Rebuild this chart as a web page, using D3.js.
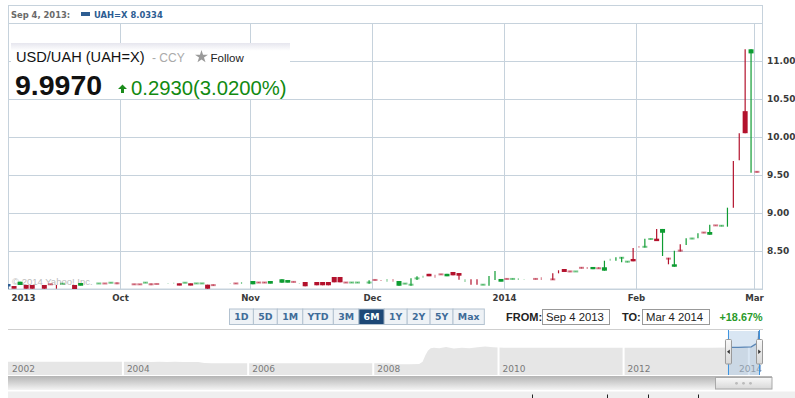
<!DOCTYPE html>
<html>
<head>
<meta charset="utf-8">
<script src="https://cdn.jsdelivr.net/npm/d3@7/dist/d3.min.js"></script>
<style>
  body { margin: 0; background: #fff; }
  svg { display: block; }
</style>
</head>
<body>
<svg id="chart" width="795" height="398"></svg>
<script>
// ---- daily candles, USD/UAH, Sep 4 2013 .. Mar 3 2014 ----
const dates = [
  // Sep
  "2013-09-04","2013-09-05","2013-09-06","2013-09-09","2013-09-10","2013-09-12","2013-09-13","2013-09-16",
  "2013-09-17","2013-09-19","2013-09-20","2013-09-25","2013-09-26","2013-09-27","2013-09-30",
  // Oct
  "2013-10-03","2013-10-04","2013-10-07","2013-10-08","2013-10-09","2013-10-11","2013-10-14","2013-10-15",
  "2013-10-16","2013-10-17","2013-10-18","2013-10-21","2013-10-22","2013-10-23","2013-10-28","2013-10-29","2013-10-30",
  // Nov
  "2013-11-01","2013-11-04","2013-11-05","2013-11-06","2013-11-08","2013-11-11","2013-11-12","2013-11-13",
  "2013-11-14","2013-11-18","2013-11-19","2013-11-20","2013-11-21","2013-11-22","2013-11-25","2013-11-26",
  "2013-11-27","2013-11-29",
  // Dec
  "2013-12-02","2013-12-03","2013-12-04","2013-12-05","2013-12-06","2013-12-09","2013-12-10","2013-12-11",
  "2013-12-12","2013-12-13","2013-12-16","2013-12-17","2013-12-18","2013-12-19","2013-12-20","2013-12-23",
  "2013-12-24","2013-12-25","2013-12-26","2013-12-27","2013-12-30","2013-12-31",
  // Jan
  "2014-01-01","2014-01-02","2014-01-03","2014-01-06","2014-01-08","2014-01-09","2014-01-13","2014-01-14",
  "2014-01-15","2014-01-16","2014-01-17","2014-01-20","2014-01-21","2014-01-22","2014-01-23","2014-01-24",
  "2014-01-27","2014-01-28","2014-01-29","2014-01-30","2014-01-31",
  // Feb / Mar
  "2014-02-03","2014-02-04","2014-02-05","2014-02-06","2014-02-07","2014-02-10","2014-02-11","2014-02-12",
  "2014-02-13","2014-02-14","2014-02-17","2014-02-18","2014-02-19","2014-02-20","2014-02-21","2014-02-24",
  "2014-02-25","2014-02-26","2014-02-27","2014-02-28","2014-03-03"
];
const opens = [
  8.066,8.039,8.053,8.053,8.053,8.053,8.068,8.030,8.063,8.053,8.043,8.068,8.077,8.077,8.088,
  8.068,8.066,8.077,8.075,8.070,8.076,8.077,8.075,8.075,8.075,8.068,8.068,8.057,8.062,8.075,8.080,8.072,
  8.062,8.092,8.092,8.070,8.083,8.083,8.100,8.075,8.092,8.092,8.092,8.092,8.158,8.158,8.092,8.078,8.078,8.075,
  8.128,8.112,8.110,8.111,8.043,8.062,8.043,8.130,8.160,8.200,8.170,8.200,8.167,8.224,8.210,8.110,8.090,8.090,8.048,8.100,8.180,8.096,
  8.140,8.125,8.128,8.128,8.140,8.136,8.135,8.226,8.263,8.240,8.227,8.290,8.277,8.260,8.283,8.241,8.385,8.394,8.402,8.350,8.395,
  8.556,8.545,8.648,8.662,8.740,8.410,8.293,8.515,8.620,8.655,8.700,8.750,8.714,8.842,8.822,8.900,9.380,9.870,10.340,11.100,9.553
];
const highs = [
  8.066,8.039,8.096,8.053,8.053,8.053,8.068,8.053,8.075,8.053,8.079,8.077,8.077,8.088,8.088,
  8.068,8.066,8.090,8.075,8.070,8.080,8.081,8.075,8.090,8.075,8.079,8.079,8.057,8.062,8.079,8.080,8.092,
  8.105,8.092,8.092,8.105,8.128,8.118,8.100,8.079,8.092,8.092,8.092,8.092,8.158,8.158,8.092,8.092,8.092,8.114,
  8.128,8.118,8.132,8.132,8.105,8.080,8.141,8.168,8.175,8.200,8.188,8.200,8.200,8.224,8.210,8.128,8.128,8.128,8.065,8.171,8.237,8.132,
  8.140,8.140,8.140,8.131,8.140,8.154,8.206,8.246,8.263,8.240,8.235,8.290,8.290,8.290,8.290,8.372,8.399,8.417,8.421,8.370,8.539,
  8.566,8.660,8.668,8.790,8.790,8.410,8.504,8.590,8.667,8.673,8.733,8.750,8.846,8.842,8.842,9.070,9.684,10.048,11.154,11.154,9.553
];
const lows = [
  8.000,8.004,8.053,8.004,8.004,8.004,8.055,8.004,8.063,8.000,8.043,8.068,8.068,8.077,8.062,
  8.055,8.057,8.077,8.049,8.062,8.072,8.073,8.045,8.075,8.045,8.068,8.068,8.004,8.040,8.071,8.066,8.066,
  8.062,8.078,8.078,8.070,8.083,8.083,8.087,8.071,8.036,8.049,8.049,8.049,8.088,8.088,8.078,8.078,8.078,8.070,
  8.110,8.105,8.096,8.096,8.043,8.062,8.043,8.118,8.149,8.167,8.149,8.185,8.167,8.180,8.122,8.092,8.057,8.057,8.048,8.043,8.118,8.096,
  8.125,8.125,8.118,8.126,8.125,8.118,8.118,8.206,8.224,8.222,8.227,8.268,8.263,8.260,8.262,8.241,8.372,8.372,8.351,8.350,8.364,
  8.543,8.545,8.648,8.630,8.434,8.325,8.293,8.495,8.580,8.655,8.667,8.735,8.714,8.832,8.822,8.820,9.070,9.693,10.050,9.530,9.530
];
const closes = [
  8.0334,8.004,8.096,8.004,8.004,8.004,8.055,8.029,8.075,8.000,8.079,8.077,8.068,8.088,8.062,
  8.055,8.057,8.090,8.049,8.062,8.077,8.078,8.045,8.090,8.045,8.079,8.079,8.004,8.040,8.076,8.066,8.073,
  8.105,8.078,8.078,8.105,8.128,8.118,8.087,8.076,8.036,8.049,8.049,8.049,8.088,8.088,8.078,8.092,8.092,8.096,
  8.110,8.111,8.111,8.110,8.105,8.080,8.070,8.150,8.161,8.167,8.169,8.185,8.200,8.180,8.175,8.111,8.089,8.089,8.065,8.101,8.181,8.132,
  8.125,8.140,8.129,8.129,8.125,8.135,8.118,8.225,8.224,8.222,8.235,8.268,8.276,8.290,8.262,8.286,8.386,8.395,8.420,8.370,8.364,
  8.555,8.565,8.668,8.630,8.790,8.390,8.325,8.495,8.621,8.673,8.701,8.735,8.750,8.832,8.842,8.901,9.379,9.869,10.050,11.154,9.530
];

const yTicks = [8.5, 9, 9.5, 10, 10.5, 11];
const yGrid = [8, 8.5, 9, 9.5, 10, 10.5, 11, 11.5];
const monthStarts = ["2013-09-04","2013-10-01","2013-11-01","2013-12-01","2014-01-01","2014-02-01","2014-03-01"];
const monthLabels = ["2013","Oct","Nov","Dec","2014","Feb","Mar"];

// navigator series (long history)
const navDates = ["2002-01-01","2002-07-01","2003-01-01","2003-07-01","2004-01-01","2004-03-15","2004-05-01","2004-06-15",
  "2004-08-01","2004-09-15","2004-11-01","2004-12-15","2005-02-01","2005-03-15","2005-04-20","2005-06-01","2005-09-01",
  "2006-01-01","2006-06-01","2007-01-01","2007-06-01","2008-01-01","2008-04-01","2008-05-15","2008-08-01","2008-09-25",
  "2008-10-15","2008-11-01","2008-11-15","2008-12-01","2008-12-20","2009-01-20","2009-03-01","2009-04-15","2009-06-01",
  "2009-07-15","2009-09-01","2009-10-15","2009-12-01","2010-02-01","2010-06-01","2011-01-01","2011-06-01","2012-01-01",
  "2012-06-01","2013-01-01","2013-06-01","2013-09-04","2013-11-01","2014-01-15","2014-02-07","2014-02-21","2014-02-25",
  "2014-02-26","2014-02-27","2014-02-28","2014-03-03"];
const navValues = [5.33,5.33,5.33,5.33,5.33,5.31,5.32,5.29,5.31,5.28,5.30,5.27,5.29,5.25,5.08,5.05,5.05,
  5.05,5.05,5.05,5.05,5.05,5.02,4.85,4.85,4.90,5.30,6.60,7.40,7.90,7.95,7.90,8.10,7.85,7.95,
  7.90,8.05,8.20,8.05,7.95,7.95,7.96,7.95,7.97,7.96,7.98,7.97,8.03,8.06,8.15,8.60,8.83,9.60,
  9.90,10.30,11.15,9.55];
const navYears = ["2002","2004","2006","2008","2010","2012","2014"];

const rangeButtons = ["1D","5D","1M","YTD","3M","6M","1Y","2Y","5Y","Max"];
const selectedRange = "6M";
const fromDate = "Sep 4 2013", toDate = "Mar 4 2014", rangeChange = "+18.67%";
const lastPrice = "9.9970", dayChange = "0.2930", dayChangePct = "(3.0200%)";

const UP = "#0e9c32", DOWN = "#b3122d", HILITE = "#2d5d92", GRID = "#c6d2dc";
const AXIS_FONT = "'DejaVu Sans', Verdana, sans-serif";
const ARIAL = "'Liberation Sans', Arial, sans-serif";

const svg = d3.select("#chart");
const margin = {left: 8, top: 23, right: 32, bottom: 109};
const width = 795 - margin.left - margin.right;
const height = 398 - margin.top - margin.bottom;

const parse = d3.utcParse("%Y-%m-%d");
const key = d3.utcFormat("%Y-%m-%d");
// trading days (weekdays) form the x axis, like Yahoo's chart does
const days = d3.utcDay.range(parse("2013-09-04"), parse("2014-03-05")).filter(d => d.getUTCDay() % 6 !== 0);
const dayIndex = new Map(days.map((d, i) => [key(d), i]));
const monthPos = monthStarts.map((m, i) => {
  const k = days.findIndex(d => d >= parse(m));
  return i === 0 ? 0 : k - 0.5;
});

// Yahoo's month spacing isn't perfectly even, so the scale is piecewise
const x = d3.scaleLinear().domain(monthPos).range([0, 112, 242, 364, 496, 628, 746]);
const y = d3.scaleLinear().domain([8, 11.5]).range([height, 0]);

const candles = dates.map((d, i) => ({
  i: dayIndex.get(d), o: opens[i], h: highs[i], l: lows[i], c: closes[i], first: i === 0
}));

const defs = svg.append("defs");
defs.append("clipPath").attr("id", "plotClip")
  .append("rect").attr("width", width).attr("height", height);
const boxGrad = defs.append("linearGradient").attr("id", "boxGrad").attr("x1", 0).attr("x2", 0).attr("y1", 0).attr("y2", 1);
boxGrad.append("stop").attr("offset", "0%").attr("stop-color", "#e6e6ee");
boxGrad.append("stop").attr("offset", "14%").attr("stop-color", "#fff");
const trackGrad = defs.append("linearGradient").attr("id", "trackGrad").attr("x1", 0).attr("x2", 0).attr("y1", 0).attr("y2", 1);
trackGrad.append("stop").attr("offset", "0%").attr("stop-color", "#b4b4b4");
trackGrad.append("stop").attr("offset", "100%").attr("stop-color", "#f4f4f4");
const thumbGrad = defs.append("linearGradient").attr("id", "thumbGrad").attr("x1", 0).attr("x2", 0).attr("y1", 0).attr("y2", 1);
thumbGrad.append("stop").attr("offset", "0%").attr("stop-color", "#f8f8f8");
thumbGrad.append("stop").attr("offset", "100%").attr("stop-color", "#d8d8d8");

// outer frame incl. the hover-info row
svg.append("rect")
  .attr("x", margin.left + 0.5).attr("y", 5.5)
  .attr("width", width - 1).attr("height", margin.top + height - 5.5)
  .attr("fill", "none").attr("stroke", GRID);

const g = svg.append("g").attr("transform", `translate(${margin.left},${margin.top})`);

// horizontal grid
g.append("g")
  .call(d3.axisRight(y).tickValues(yGrid).tickSize(width).tickFormat(""))
  .call(s => s.select(".domain").remove())
  .call(s => s.selectAll("line").attr("stroke", GRID));

// vertical grid + month labels
const xAxis = g.append("g").attr("transform", `translate(0,${height})`)
  .call(d3.axisBottom(x).tickValues(monthPos).tickSize(-height).tickPadding(6)
    .tickFormat((d, i) => monthLabels[i]))
  .call(s => s.select(".domain").remove());
xAxis.selectAll("line").attr("stroke", GRID);
xAxis.selectAll("text")
  .attr("font-family", AXIS_FONT).attr("font-size", 8.6).attr("font-weight", "bold").attr("fill", "#3a3a3a")
  .attr("text-anchor", (d, i) => i === 0 ? "start" : "middle")
  .attr("dx", (d, i) => i === 0 ? 3 : 0);

// price labels on the right
g.append("g").attr("transform", `translate(${width},0)`)
  .call(d3.axisRight(y).tickValues(yTicks).tickSize(0).tickPadding(4).tickFormat(d3.format(".2f")))
  .call(s => s.select(".domain").remove())
  .call(s => s.selectAll("text").attr("font-family", AXIS_FONT).attr("font-size", 9)
    .attr("font-weight", "bold").attr("fill", "#3a3a3a"));

// watermark
g.append("text").attr("x", 4).attr("y", height - 4)
  .attr("font-family", ARIAL).attr("font-size", 9.5).attr("fill", "#bcbcbc")
  .text("\u00a9 2014 Yahoo! Inc.");

// hover info row
const info = svg.append("text").attr("x", 11).attr("y", 17.5)
  .attr("font-family", AXIS_FONT).attr("font-size", 8.4).attr("font-weight", "bold");
info.append("tspan").attr("fill", "#6a6a6a").text("Sep 4, 2013:");
svg.append("rect").attr("x", 81).attr("y", 12).attr("width", 9).attr("height", 4).attr("fill", HILITE);
svg.append("text").attr("x", 94).attr("y", 17.5)
  .attr("font-family", AXIS_FONT).attr("font-size", 8.4).attr("font-weight", "bold").attr("fill", HILITE)
  .text("UAH=X " + d3.format(".4f")(closes[0]));

// quote box
const qb = svg.append("g");
qb.append("rect").attr("x", 11).attr("y", 43).attr("width", 279).attr("height", 56).attr("fill", "url(#boxGrad)");
qb.append("text").attr("x", 16).attr("y", 61.5)
  .attr("font-family", ARIAL).attr("font-size", 14.6).attr("fill", "#111").text("USD/UAH (UAH=X)");
qb.append("text").attr("x", 152).attr("y", 61.5)
  .attr("font-family", ARIAL).attr("font-size", 12).attr("fill", "#aaa").text("- CCY");
qb.append("path").attr("d", d3.symbol(d3.symbolStar, 52)()).attr("transform", "translate(201.5,56.8)").attr("fill", "#9a9a9a");
qb.append("text").attr("x", 210.5).attr("y", 61.5)
  .attr("font-family", ARIAL).attr("font-size", 11.5).attr("fill", "#222").text("Follow");
qb.append("text").attr("x", 15).attr("y", 94.5)
  .attr("font-family", ARIAL).attr("font-size", 28.5).attr("font-weight", "bold").attr("fill", "#111").text(lastPrice);
qb.append("path").attr("d", "M118,89 L122.5,84.5 L127,89 L124,89 L124,93 L121,93 L121,89 Z").attr("fill", "#1b8c1b");
qb.append("text").attr("x", 131).attr("y", 94.5)
  .attr("font-family", ARIAL).attr("font-size", 20.3).attr("fill", "#118a11").text(dayChange + dayChangePct);

// candlesticks
const cg = g.append("g").attr("clip-path", "url(#plotClip)");
const bodyW = 5;
candles.forEach(d => {
  const cx = x(d.i);
  const col = d.first ? HILITE : (d.c > d.o ? UP : DOWN);
  const wickLen = y(d.l) - y(d.h);
  cg.append("line")
    .attr("x1", cx).attr("x2", cx).attr("y1", y(d.h)).attr("y2", y(d.l))
    .attr("stroke", col).attr("stroke-width", 1.2).attr("stroke-opacity", wickLen < 3 ? 0.5 : 1);
  if (Math.abs(d.o - d.c) >= 0.003) {
    const top = Math.min(y(d.o), y(d.c));
    const bh = Math.abs(y(d.o) - y(d.c));
    const thin = bh < 2.2;
    cg.append("rect")
      .attr("x", cx - bodyW / 2).attr("width", bodyW)
      .attr("y", thin ? top + bh / 2 - 1 : top).attr("height", thin ? 2 : bh)
      .attr("fill", col).attr("fill-opacity", thin ? 0.55 : 1);
  }
});

// ---- range buttons / date inputs ----
const btnY = 309, btnH = 15.5;
let bx = 229.5;
const bg = svg.append("g");
rangeButtons.forEach(lbl => {
  const sel = lbl === selectedRange;
  const b = bg.append("g");
  const r = b.append("rect").attr("y", btnY).attr("height", btnH)
    .attr("fill", sel ? "#1d4877" : "#eef2f6").attr("stroke", "#b3c2d0");
  const t = b.append("text").attr("y", btnY + 11.3)
    .attr("font-family", AXIS_FONT).attr("font-size", 9.4).attr("font-weight", "bold")
    .attr("fill", sel ? "#fff" : "#3f6c99").attr("text-anchor", "middle").text(lbl);
  const w = t.node().getComputedTextLength() + 9.6;
  r.attr("x", bx).attr("width", w);
  t.attr("x", bx + w / 2);
  bx += w;
});

const inputs = svg.append("g").attr("font-family", ARIAL);
inputs.append("text").attr("x", 506).attr("y", 321).attr("font-size", 11).attr("font-weight", "bold").attr("fill", "#222").text("FROM:");
inputs.append("rect").attr("x", 542.5).attr("y", 309.5).attr("width", 67).attr("height", 15).attr("fill", "#fff").attr("stroke", "#999");
inputs.append("text").attr("x", 546).attr("y", 321).attr("font-size", 11.3).attr("fill", "#222").text(fromDate);
inputs.append("text").attr("x", 622).attr("y", 321).attr("font-size", 11).attr("font-weight", "bold").attr("fill", "#222").text("TO:");
inputs.append("rect").attr("x", 642.5).attr("y", 309.5).attr("width", 67).attr("height", 15).attr("fill", "#fff").attr("stroke", "#999");
inputs.append("text").attr("x", 646).attr("y", 321).attr("font-size", 11.3).attr("fill", "#222").text(toDate);
inputs.append("text").attr("x", 762.5).attr("y", 321).attr("text-anchor", "end")
  .attr("font-size", 10.8).attr("font-weight", "bold").attr("fill", "#2a9a2a").text(rangeChange);

svg.append("line").attr("x1", 8).attr("x2", 763).attr("y1", 329.5).attr("y2", 329.5).attr("stroke", "#cfcfcf");

// ---- navigator ----
const navTop = 331, navBottom = 375;
const navX = d3.scaleUtc().domain([parse("2002-01-01"), parse("2014-03-04")]).range([-2.2, 759.5]);
const navY = d3.scaleLinear().domain([2.8, 11.15]).range([navBottom, navTop]);
const navData = navDates.map((d, i) => ({d: parse(d), v: navValues[i]}));

defs.append("clipPath").attr("id", "navClip")
  .append("rect").attr("x", 8).attr("y", navTop - 2).attr("width", 755).attr("height", navBottom - navTop + 2);
const selX0 = navX(parse("2013-09-04")), selX1 = navX(parse("2014-03-04"));
defs.append("clipPath").attr("id", "selClip")
  .append("rect").attr("x", selX0).attr("y", navTop - 2).attr("width", selX1 - selX0).attr("height", navBottom - navTop + 2);

const ng = svg.append("g");
ng.append("path").datum(navData).attr("clip-path", "url(#navClip)")
  .attr("fill", "#e6e6e6")
  .attr("d", d3.area().x(d => navX(d.d)).y0(navBottom).y1(d => navY(d.v)));

const yearTicks = navYears.map(yr => parse(yr + "-01-01"));
ng.selectAll(".ygrid").data(yearTicks.slice(1)).join("line")
  .attr("x1", d => navX(d)).attr("x2", d => navX(d)).attr("y1", navTop - 1).attr("y2", navBottom)
  .attr("stroke", "#fff").attr("stroke-width", 2);
ng.selectAll(".ylab").data(yearTicks).join("text")
  .attr("font-family", AXIS_FONT).attr("font-size", 9).attr("fill", "#7a7a7a")
  .attr("y", 371.5).text((d, i) => navYears[i])
  .attr("x", function(d) {
    const w = this.getComputedTextLength();
    return Math.min(Math.max(navX(d) + 4, 12), 762 - w);
  });

// selected window
ng.append("rect").attr("x", selX0).attr("y", navTop).attr("width", selX1 - selX0).attr("height", navBottom - navTop)
  .attr("fill", "#aac8e4").attr("fill-opacity", 0.45);
ng.append("path").datum(navData).attr("clip-path", "url(#selClip)")
  .attr("fill", "none").attr("stroke", "#5a86b6").attr("stroke-width", 1.3)
  .attr("d", d3.line().x(d => navX(d.d)).y(d => navY(d.v)));
[selX0, selX1].forEach((sx, k) => {
  ng.append("line").attr("x1", sx).attr("x2", sx).attr("y1", navTop - 1).attr("y2", navBottom)
    .attr("stroke", "#3a93e0").attr("stroke-width", 1);
  const hx = sx - 3;
  ng.append("rect").attr("x", hx).attr("y", 339.5).attr("width", 6).attr("height", 24.5).attr("rx", 1)
    .attr("fill", "url(#thumbGrad)").attr("stroke", "#999");
  const ax = hx + 3;
  ng.append("path")
    .attr("d", k === 0 ? `M${ax + 1.3},349.5 L${ax - 1.5},351.8 L${ax + 1.3},354 Z` : `M${ax - 1.3},349.5 L${ax + 1.5},351.8 L${ax - 1.3},354 Z`)
    .attr("fill", "#333");
});

// scrollbar
svg.append("rect").attr("x", 8).attr("y", 376).attr("width", 764).attr("height", 14).attr("fill", "url(#trackGrad)");
svg.append("rect").attr("x", 715.5).attr("y", 377.5).attr("width", 56.5).attr("height", 11.5)
  .attr("fill", "url(#thumbGrad)").attr("stroke", "#a9a9a9");
[736.5, 743.5, 750.5].forEach(cx => svg.append("circle").attr("cx", cx).attr("cy", 383.3).attr("r", 1.4).attr("fill", "#bbb"));

// next page strip (cut off at the bottom)
svg.append("rect").attr("x", 8).attr("y", 391.5).attr("width", 787).attr("height", 7).attr("fill", "#efefef");
[532, 607, 648, 698].forEach(tx => svg.append("line").attr("x1", tx + 0.5).attr("x2", tx + 0.5).attr("y1", 394.5).attr("y2", 398).attr("stroke", "#222"));
</script>
</body>
</html>
